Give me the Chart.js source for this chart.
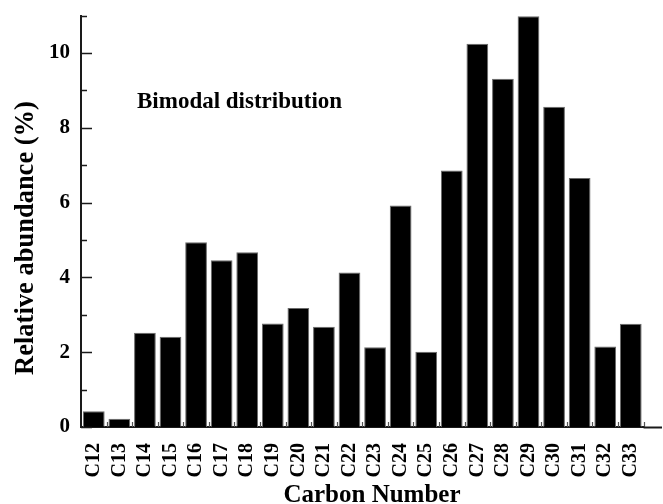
<!DOCTYPE html>
<html>
<head>
<meta charset="utf-8">
<script src="https://cdn.jsdelivr.net/npm/chart.js@4.4.1/dist/chart.umd.min.js"></script>
<style>
  html, body { margin: 0; padding: 0; background: #fff; }
  #wrap { width: 663px; height: 504px; }
</style>
</head>
<body>
<div id="wrap"><canvas id="c" width="663" height="504"></canvas></div>
<script>
// n-alkane carbon numbers and their relative abundance (%)
const categories = ['C12','C13','C14','C15','C16','C17','C18','C19','C20','C21','C22',
                    'C23','C24','C25','C26','C27','C28','C29','C30','C31','C32','C33'];
const abundance = [0.42, 0.22, 2.52, 2.41, 4.94, 4.46, 4.67, 2.77, 3.18, 2.68, 4.13,
                   2.13, 5.92, 2.01, 6.86, 10.25, 9.31, 10.98, 8.56, 6.66, 2.15, 2.76];
const yMajorTicks = [0, 2, 4, 6, 8, 10];
const yMinorTicks = [1, 3, 5, 7, 9, 11];

const SERIF = "'Liberation Serif', 'Times New Roman', serif";

// Inward tick marks, extended baseline and the text annotations
const decorations = {
  id: 'decorations',
  afterDraw(chart) {
    const { ctx, chartArea, scales: { x, y } } = chart;
    const { left, right, bottom } = chartArea;
    ctx.save();
    ctx.strokeStyle = '#1a1a1a';
    ctx.lineWidth = 1.6;
    ctx.beginPath();
    yMajorTicks.forEach(v => {
      const py = Math.round(y.getPixelForValue(v)) + 0.5;
      ctx.moveTo(left, py); ctx.lineTo(left + 11, py);
    });
    yMinorTicks.forEach(v => {
      const py = Math.round(y.getPixelForValue(v)) + 0.5;
      ctx.moveTo(left, py); ctx.lineTo(left + 6, py);
    });
    ctx.stroke();

    // small upward ticks on the boundaries between categories
    ctx.strokeStyle = '#555';
    ctx.lineWidth = 1.2;
    ctx.beginPath();
    for (let i = 1; i <= categories.length; i++) {
      const a = x.getPixelForValue(i - 1);
      const b = i < categories.length ? x.getPixelForValue(i) : 2 * a - x.getPixelForValue(i - 2);
      const px = Math.round((a + b) / 2) + 0.5;
      ctx.moveTo(px, bottom); ctx.lineTo(px, bottom - 5);
    }
    ctx.stroke();

    // baseline continues to the right edge
    ctx.strokeStyle = '#1a1a1a';
    ctx.lineWidth = 2;
    ctx.beginPath();
    ctx.moveTo(right, bottom + 0.5);
    ctx.lineTo(chart.width - 1, bottom + 0.5);
    ctx.stroke();

    ctx.fillStyle = '#000';
    ctx.font = 'bold 23px ' + SERIF;
    ctx.textAlign = 'left';
    ctx.textBaseline = 'alphabetic';
    ctx.fillText('Bimodal distribution', 137, 108);

    ctx.font = 'bold 25px ' + SERIF;
    ctx.textAlign = 'center';
    ctx.fillText('Carbon Number', 372, 502);

    ctx.save();
    ctx.translate(33, 238);
    ctx.rotate(-Math.PI / 2);
    ctx.font = 'bold 26.5px ' + SERIF;
    ctx.textAlign = 'center';
    ctx.textBaseline = 'alphabetic';
    ctx.fillText('Relative abundance (%)', 0, 0);
    ctx.restore();
    ctx.restore();
  }
};

new Chart(document.getElementById('c'), {
  type: 'bar',
  data: {
    labels: categories,
    datasets: [{
      data: abundance,
      backgroundColor: '#000',
      borderColor: '#6a6a6a',
      borderWidth: 1,
      barPercentage: 0.85,
      categoryPercentage: 1.0
    }]
  },
  options: {
    responsive: false,
    animation: false,
    events: [],
    layout: { padding: { top: 14, right: 10, left: 0, bottom: 0 } },
    plugins: { legend: { display: false }, tooltip: { enabled: false }, title: { display: false } },
    scales: {
      x: {
        grid: { display: false },
        border: { display: true, color: '#1a1a1a', width: 2 },
        ticks: {
          color: '#000',
          font: { family: SERIF, size: 20, weight: 'bold' },
          minRotation: 90, maxRotation: 90,
          autoSkip: false,
          padding: 8
        },
        afterFit(scale) { scale.height = 77; }
      },
      y: {
        min: 0, max: 11,
        grid: { display: false },
        border: { display: true, color: '#1a1a1a', width: 2 },
        ticks: {
          stepSize: 2,
          color: '#000',
          font: { family: SERIF, size: 21, weight: 'bold' },
          padding: 3,
          callback: v => (v % 2 === 0 ? v : '')
        },
        afterFit(scale) { scale.width = 81; }
      }
    }
  },
  plugins: [decorations]
});
</script>
</body>
</html>
